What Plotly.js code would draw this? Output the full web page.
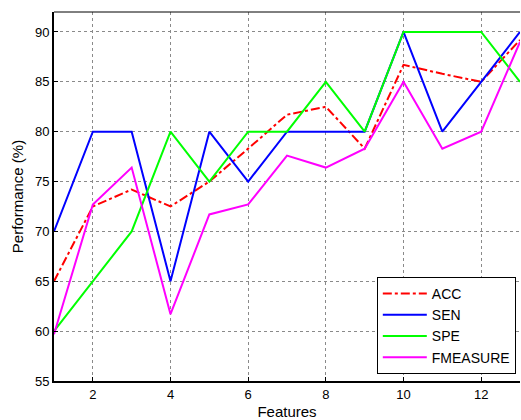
<!DOCTYPE html>
<html>
<head>
<meta charset="utf-8">
<script src="https://cdn.plot.ly/plotly-3.0.1.min.js"></script>
<style>html,body{margin:0;padding:0;background:#fff;}#chart{width:521px;height:420px;}</style>
</head>
<body>
<div id="chart"></div>
<script>
var features = [1,2,3,4,5,6,7,8,9,10,11,12,13];
var acc = [65, 72.5, 74.2, 72.5, 75, 78.3, 81.7, 82.5, 78.3, 86.7, 85.8, 85, 89.2];
var sen = [70, 80, 80, 65, 80, 75, 80, 80, 80, 90, 80, 85, 90];
var spe = [60, 65, 70, 80, 75, 80, 80, 85, 80, 90, 90, 90, 85];
var fmeasure = [59.7, 72.7, 76.4, 61.7, 71.7, 72.7, 77.6, 76.4, 78.3, 85, 78.3, 80, 89];
var seriesNames = ['ACC', 'SEN', 'SPE', 'FMEASURE'];
var xTicks = [2,4,6,8,10,12];
var yTicks = [55,60,65,70,75,80,85,90];
var xRange = [1, 13];
var yRange = [55, 92];

var FONT = 'Liberation Sans, Arial, sans-serif';

var traces = [
  {x: features, y: acc, name: seriesNames[0], mode: 'lines', line: {color: '#ff0000', width: 2, dash: 'dashdot'}},
  {x: features, y: sen, name: seriesNames[1], mode: 'lines', line: {color: '#0000ff', width: 2}},
  {x: features, y: spe, name: seriesNames[2], mode: 'lines', line: {color: '#00ff00', width: 2}},
  {x: features, y: fmeasure, name: seriesNames[3], mode: 'lines', line: {color: '#ff00ff', width: 2}}
];

var axisCommon = {
  showline: true, linecolor: '#000', linewidth: 2,
  ticks: 'inside', ticklen: 4, tickcolor: '#000', tickwidth: 1,
  showgrid: true, gridcolor: '#8a8a8a', griddash: 'dot', gridwidth: 1,
  zeroline: false,
  tickfont: {family: FONT, size: 13, color: '#000'}
};
var mirrorCommon = {
  showline: false, showgrid: false, zeroline: false, showticklabels: false,
  ticks: 'inside', ticklen: 4, tickcolor: '#000', tickwidth: 1
};

var layout = {
  width: 521, height: 420,
  margin: {l: 54, r: 1, t: 12, b: 39},
  paper_bgcolor: '#fff', plot_bgcolor: '#fff',
  showlegend: true,
  xaxis: Object.assign({}, axisCommon, {
    range: xRange, tickvals: xTicks,
    title: {text: 'Features', font: {family: FONT, size: 15, color: '#000'}, standoff: 6}
  }),
  yaxis: Object.assign({}, axisCommon, {
    range: yRange, tickvals: yTicks,
    title: {text: 'Performance (%)', font: {family: FONT, size: 15, color: '#000'}, standoff: 8}
  }),
  xaxis2: Object.assign({}, mirrorCommon, {overlaying: 'x', side: 'top', range: xRange, tickvals: xTicks}),
  yaxis2: Object.assign({}, mirrorCommon, {overlaying: 'y', side: 'right', range: yRange, tickvals: yTicks}),
  shapes: [
    {type: 'line', xref: 'paper', yref: 'paper', x0: 0, x1: 1, y0: 1, y1: 1, line: {color: '#000', width: 1}}
  ],
  legend: {
    x: 0.991, y: 0.019, xanchor: 'right', yanchor: 'bottom',
    bgcolor: '#fff', bordercolor: '#000', borderwidth: 1,
    font: {family: FONT, size: 14, color: '#000'},
    itemwidth: 44,
    tracegroupgap: 0
  }
};

Plotly.newPlot('chart', traces, layout, {staticPlot: true, displayModeBar: false});
</script>
</body>
</html>
